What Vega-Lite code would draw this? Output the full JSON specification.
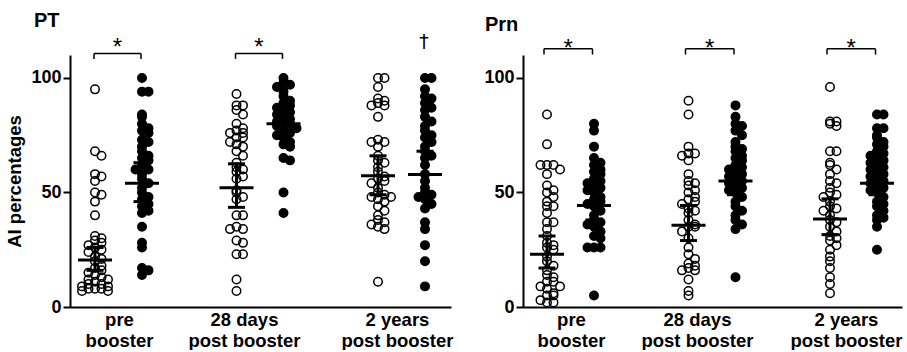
{
"$schema": "https://vega.github.io/schema/vega-lite/v6.json",
"padding": {"left": 5, "top": 10, "right": 0, "bottom": 0},
"bounds": "flush",
"spacing": 72,
"config": {"view": {"stroke": null}, "font": "Liberation Sans"},
"datasets": {
"pts": [
{"p":"PT","t":"pre","g":"open","v":95},{"p":"PT","t":"pre","g":"open","v":68},{"p":"PT","t":"pre","g":"open","v":66},{"p":"PT","t":"pre","g":"open","v":58},{"p":"PT","t":"pre","g":"open","v":57},{"p":"PT","t":"pre","g":"open","v":55},{"p":"PT","t":"pre","g":"open","v":50},{"p":"PT","t":"pre","g":"open","v":49},{"p":"PT","t":"pre","g":"open","v":46},{"p":"PT","t":"pre","g":"open","v":40},{"p":"PT","t":"pre","g":"open","v":31},{"p":"PT","t":"pre","g":"open","v":30},{"p":"PT","t":"pre","g":"open","v":29},{"p":"PT","t":"pre","g":"open","v":28},{"p":"PT","t":"pre","g":"open","v":27},{"p":"PT","t":"pre","g":"open","v":26},{"p":"PT","t":"pre","g":"open","v":25},{"p":"PT","t":"pre","g":"open","v":24},{"p":"PT","t":"pre","g":"open","v":22},{"p":"PT","t":"pre","g":"open","v":21},{"p":"PT","t":"pre","g":"open","v":20},{"p":"PT","t":"pre","g":"open","v":18},{"p":"PT","t":"pre","g":"open","v":17},{"p":"PT","t":"pre","g":"open","v":16},{"p":"PT","t":"pre","g":"open","v":15},{"p":"PT","t":"pre","g":"open","v":14},{"p":"PT","t":"pre","g":"open","v":13},{"p":"PT","t":"pre","g":"open","v":12},{"p":"PT","t":"pre","g":"open","v":12},{"p":"PT","t":"pre","g":"open","v":11},{"p":"PT","t":"pre","g":"open","v":10},{"p":"PT","t":"pre","g":"open","v":10},{"p":"PT","t":"pre","g":"open","v":9},{"p":"PT","t":"pre","g":"open","v":9},{"p":"PT","t":"pre","g":"open","v":8},{"p":"PT","t":"pre","g":"open","v":8},{"p":"PT","t":"pre","g":"open","v":8},{"p":"PT","t":"pre","g":"open","v":7},{"p":"PT","t":"pre","g":"open","v":7},
{"p":"PT","t":"pre","g":"filled","v":100},{"p":"PT","t":"pre","g":"filled","v":94},{"p":"PT","t":"pre","g":"filled","v":94},{"p":"PT","t":"pre","g":"filled","v":84},{"p":"PT","t":"pre","g":"filled","v":83},{"p":"PT","t":"pre","g":"filled","v":80},{"p":"PT","t":"pre","g":"filled","v":78},{"p":"PT","t":"pre","g":"filled","v":77},{"p":"PT","t":"pre","g":"filled","v":76},{"p":"PT","t":"pre","g":"filled","v":73},{"p":"PT","t":"pre","g":"filled","v":72},{"p":"PT","t":"pre","g":"filled","v":70},{"p":"PT","t":"pre","g":"filled","v":68},{"p":"PT","t":"pre","g":"filled","v":66},{"p":"PT","t":"pre","g":"filled","v":65},{"p":"PT","t":"pre","g":"filled","v":64},{"p":"PT","t":"pre","g":"filled","v":62},{"p":"PT","t":"pre","g":"filled","v":60},{"p":"PT","t":"pre","g":"filled","v":60},{"p":"PT","t":"pre","g":"filled","v":58},{"p":"PT","t":"pre","g":"filled","v":56},{"p":"PT","t":"pre","g":"filled","v":54},{"p":"PT","t":"pre","g":"filled","v":52},{"p":"PT","t":"pre","g":"filled","v":50},{"p":"PT","t":"pre","g":"filled","v":48},{"p":"PT","t":"pre","g":"filled","v":47},{"p":"PT","t":"pre","g":"filled","v":45},{"p":"PT","t":"pre","g":"filled","v":44},{"p":"PT","t":"pre","g":"filled","v":42},{"p":"PT","t":"pre","g":"filled","v":41},{"p":"PT","t":"pre","g":"filled","v":35},{"p":"PT","t":"pre","g":"filled","v":28},{"p":"PT","t":"pre","g":"filled","v":26},{"p":"PT","t":"pre","g":"filled","v":17},{"p":"PT","t":"pre","g":"filled","v":16},{"p":"PT","t":"pre","g":"filled","v":14},
{"p":"PT","t":"d28","g":"open","v":93},{"p":"PT","t":"d28","g":"open","v":88},{"p":"PT","t":"d28","g":"open","v":88},{"p":"PT","t":"d28","g":"open","v":86},{"p":"PT","t":"d28","g":"open","v":84},{"p":"PT","t":"d28","g":"open","v":80},{"p":"PT","t":"d28","g":"open","v":78},{"p":"PT","t":"d28","g":"open","v":77},{"p":"PT","t":"d28","g":"open","v":76},{"p":"PT","t":"d28","g":"open","v":76},{"p":"PT","t":"d28","g":"open","v":74},{"p":"PT","t":"d28","g":"open","v":74},{"p":"PT","t":"d28","g":"open","v":72},{"p":"PT","t":"d28","g":"open","v":71},{"p":"PT","t":"d28","g":"open","v":70},{"p":"PT","t":"d28","g":"open","v":68},{"p":"PT","t":"d28","g":"open","v":66},{"p":"PT","t":"d28","g":"open","v":63},{"p":"PT","t":"d28","g":"open","v":61},{"p":"PT","t":"d28","g":"open","v":60},{"p":"PT","t":"d28","g":"open","v":59},{"p":"PT","t":"d28","g":"open","v":57},{"p":"PT","t":"d28","g":"open","v":56},{"p":"PT","t":"d28","g":"open","v":51},{"p":"PT","t":"d28","g":"open","v":50},{"p":"PT","t":"d28","g":"open","v":48},{"p":"PT","t":"d28","g":"open","v":47},{"p":"PT","t":"d28","g":"open","v":40},{"p":"PT","t":"d28","g":"open","v":40},{"p":"PT","t":"d28","g":"open","v":35},{"p":"PT","t":"d28","g":"open","v":34},{"p":"PT","t":"d28","g":"open","v":34},{"p":"PT","t":"d28","g":"open","v":29},{"p":"PT","t":"d28","g":"open","v":28},{"p":"PT","t":"d28","g":"open","v":23},{"p":"PT","t":"d28","g":"open","v":23},{"p":"PT","t":"d28","g":"open","v":12},{"p":"PT","t":"d28","g":"open","v":7},
{"p":"PT","t":"d28","g":"filled","v":100},{"p":"PT","t":"d28","g":"filled","v":98},{"p":"PT","t":"d28","g":"filled","v":97},{"p":"PT","t":"d28","g":"filled","v":96},{"p":"PT","t":"d28","g":"filled","v":94},{"p":"PT","t":"d28","g":"filled","v":92},{"p":"PT","t":"d28","g":"filled","v":90},{"p":"PT","t":"d28","g":"filled","v":89},{"p":"PT","t":"d28","g":"filled","v":88},{"p":"PT","t":"d28","g":"filled","v":87},{"p":"PT","t":"d28","g":"filled","v":86},{"p":"PT","t":"d28","g":"filled","v":85},{"p":"PT","t":"d28","g":"filled","v":84},{"p":"PT","t":"d28","g":"filled","v":83},{"p":"PT","t":"d28","g":"filled","v":82},{"p":"PT","t":"d28","g":"filled","v":81},{"p":"PT","t":"d28","g":"filled","v":80},{"p":"PT","t":"d28","g":"filled","v":80},{"p":"PT","t":"d28","g":"filled","v":79},{"p":"PT","t":"d28","g":"filled","v":78},{"p":"PT","t":"d28","g":"filled","v":77},{"p":"PT","t":"d28","g":"filled","v":76},{"p":"PT","t":"d28","g":"filled","v":75},{"p":"PT","t":"d28","g":"filled","v":74},{"p":"PT","t":"d28","g":"filled","v":72},{"p":"PT","t":"d28","g":"filled","v":71},{"p":"PT","t":"d28","g":"filled","v":70},{"p":"PT","t":"d28","g":"filled","v":65},{"p":"PT","t":"d28","g":"filled","v":64},{"p":"PT","t":"d28","g":"filled","v":50},{"p":"PT","t":"d28","g":"filled","v":41},
{"p":"PT","t":"y2","g":"open","v":100},{"p":"PT","t":"y2","g":"open","v":100},{"p":"PT","t":"y2","g":"open","v":96},{"p":"PT","t":"y2","g":"open","v":91},{"p":"PT","t":"y2","g":"open","v":90},{"p":"PT","t":"y2","g":"open","v":89},{"p":"PT","t":"y2","g":"open","v":88},{"p":"PT","t":"y2","g":"open","v":88},{"p":"PT","t":"y2","g":"open","v":83},{"p":"PT","t":"y2","g":"open","v":73},{"p":"PT","t":"y2","g":"open","v":72},{"p":"PT","t":"y2","g":"open","v":72},{"p":"PT","t":"y2","g":"open","v":70},{"p":"PT","t":"y2","g":"open","v":66},{"p":"PT","t":"y2","g":"open","v":64},{"p":"PT","t":"y2","g":"open","v":63},{"p":"PT","t":"y2","g":"open","v":61},{"p":"PT","t":"y2","g":"open","v":59},{"p":"PT","t":"y2","g":"open","v":57},{"p":"PT","t":"y2","g":"open","v":56},{"p":"PT","t":"y2","g":"open","v":55},{"p":"PT","t":"y2","g":"open","v":54},{"p":"PT","t":"y2","g":"open","v":52},{"p":"PT","t":"y2","g":"open","v":50},{"p":"PT","t":"y2","g":"open","v":49},{"p":"PT","t":"y2","g":"open","v":48},{"p":"PT","t":"y2","g":"open","v":48},{"p":"PT","t":"y2","g":"open","v":47},{"p":"PT","t":"y2","g":"open","v":46},{"p":"PT","t":"y2","g":"open","v":44},{"p":"PT","t":"y2","g":"open","v":42},{"p":"PT","t":"y2","g":"open","v":40},{"p":"PT","t":"y2","g":"open","v":38},{"p":"PT","t":"y2","g":"open","v":37},{"p":"PT","t":"y2","g":"open","v":36},{"p":"PT","t":"y2","g":"open","v":35},{"p":"PT","t":"y2","g":"open","v":34},{"p":"PT","t":"y2","g":"open","v":11},
{"p":"PT","t":"y2","g":"filled","v":100},{"p":"PT","t":"y2","g":"filled","v":100},{"p":"PT","t":"y2","g":"filled","v":95},{"p":"PT","t":"y2","g":"filled","v":92},{"p":"PT","t":"y2","g":"filled","v":91},{"p":"PT","t":"y2","g":"filled","v":89},{"p":"PT","t":"y2","g":"filled","v":87},{"p":"PT","t":"y2","g":"filled","v":86},{"p":"PT","t":"y2","g":"filled","v":83},{"p":"PT","t":"y2","g":"filled","v":81},{"p":"PT","t":"y2","g":"filled","v":79},{"p":"PT","t":"y2","g":"filled","v":77},{"p":"PT","t":"y2","g":"filled","v":75},{"p":"PT","t":"y2","g":"filled","v":74},{"p":"PT","t":"y2","g":"filled","v":72},{"p":"PT","t":"y2","g":"filled","v":70},{"p":"PT","t":"y2","g":"filled","v":68},{"p":"PT","t":"y2","g":"filled","v":66},{"p":"PT","t":"y2","g":"filled","v":65},{"p":"PT","t":"y2","g":"filled","v":62},{"p":"PT","t":"y2","g":"filled","v":58},{"p":"PT","t":"y2","g":"filled","v":55},{"p":"PT","t":"y2","g":"filled","v":52},{"p":"PT","t":"y2","g":"filled","v":50},{"p":"PT","t":"y2","g":"filled","v":49},{"p":"PT","t":"y2","g":"filled","v":48},{"p":"PT","t":"y2","g":"filled","v":47},{"p":"PT","t":"y2","g":"filled","v":45},{"p":"PT","t":"y2","g":"filled","v":43},{"p":"PT","t":"y2","g":"filled","v":37},{"p":"PT","t":"y2","g":"filled","v":34},{"p":"PT","t":"y2","g":"filled","v":27},{"p":"PT","t":"y2","g":"filled","v":20},{"p":"PT","t":"y2","g":"filled","v":9},
{"p":"Prn","t":"pre","g":"open","v":84},{"p":"Prn","t":"pre","g":"open","v":71},{"p":"Prn","t":"pre","g":"open","v":62},{"p":"Prn","t":"pre","g":"open","v":62},{"p":"Prn","t":"pre","g":"open","v":62},{"p":"Prn","t":"pre","g":"open","v":60},{"p":"Prn","t":"pre","g":"open","v":58},{"p":"Prn","t":"pre","g":"open","v":53},{"p":"Prn","t":"pre","g":"open","v":51},{"p":"Prn","t":"pre","g":"open","v":50},{"p":"Prn","t":"pre","g":"open","v":48},{"p":"Prn","t":"pre","g":"open","v":46},{"p":"Prn","t":"pre","g":"open","v":44},{"p":"Prn","t":"pre","g":"open","v":44},{"p":"Prn","t":"pre","g":"open","v":41},{"p":"Prn","t":"pre","g":"open","v":37},{"p":"Prn","t":"pre","g":"open","v":37},{"p":"Prn","t":"pre","g":"open","v":34},{"p":"Prn","t":"pre","g":"open","v":31},{"p":"Prn","t":"pre","g":"open","v":28},{"p":"Prn","t":"pre","g":"open","v":27},{"p":"Prn","t":"pre","g":"open","v":26},{"p":"Prn","t":"pre","g":"open","v":25},{"p":"Prn","t":"pre","g":"open","v":22},{"p":"Prn","t":"pre","g":"open","v":20},{"p":"Prn","t":"pre","g":"open","v":18},{"p":"Prn","t":"pre","g":"open","v":16},{"p":"Prn","t":"pre","g":"open","v":14},{"p":"Prn","t":"pre","g":"open","v":13},{"p":"Prn","t":"pre","g":"open","v":11},{"p":"Prn","t":"pre","g":"open","v":11},{"p":"Prn","t":"pre","g":"open","v":9},{"p":"Prn","t":"pre","g":"open","v":9},{"p":"Prn","t":"pre","g":"open","v":8},{"p":"Prn","t":"pre","g":"open","v":6},{"p":"Prn","t":"pre","g":"open","v":5},{"p":"Prn","t":"pre","g":"open","v":5},{"p":"Prn","t":"pre","g":"open","v":3},{"p":"Prn","t":"pre","g":"open","v":2},{"p":"Prn","t":"pre","g":"open","v":2},
{"p":"Prn","t":"pre","g":"filled","v":80},{"p":"Prn","t":"pre","g":"filled","v":77},{"p":"Prn","t":"pre","g":"filled","v":70},{"p":"Prn","t":"pre","g":"filled","v":65},{"p":"Prn","t":"pre","g":"filled","v":63},{"p":"Prn","t":"pre","g":"filled","v":62},{"p":"Prn","t":"pre","g":"filled","v":60},{"p":"Prn","t":"pre","g":"filled","v":59},{"p":"Prn","t":"pre","g":"filled","v":58},{"p":"Prn","t":"pre","g":"filled","v":56},{"p":"Prn","t":"pre","g":"filled","v":55},{"p":"Prn","t":"pre","g":"filled","v":54},{"p":"Prn","t":"pre","g":"filled","v":53},{"p":"Prn","t":"pre","g":"filled","v":52},{"p":"Prn","t":"pre","g":"filled","v":51},{"p":"Prn","t":"pre","g":"filled","v":50},{"p":"Prn","t":"pre","g":"filled","v":48},{"p":"Prn","t":"pre","g":"filled","v":47},{"p":"Prn","t":"pre","g":"filled","v":46},{"p":"Prn","t":"pre","g":"filled","v":45},{"p":"Prn","t":"pre","g":"filled","v":44},{"p":"Prn","t":"pre","g":"filled","v":42},{"p":"Prn","t":"pre","g":"filled","v":40},{"p":"Prn","t":"pre","g":"filled","v":38},{"p":"Prn","t":"pre","g":"filled","v":37},{"p":"Prn","t":"pre","g":"filled","v":36},{"p":"Prn","t":"pre","g":"filled","v":35},{"p":"Prn","t":"pre","g":"filled","v":33},{"p":"Prn","t":"pre","g":"filled","v":31},{"p":"Prn","t":"pre","g":"filled","v":30},{"p":"Prn","t":"pre","g":"filled","v":26},{"p":"Prn","t":"pre","g":"filled","v":26},{"p":"Prn","t":"pre","g":"filled","v":26},{"p":"Prn","t":"pre","g":"filled","v":5},
{"p":"Prn","t":"d28","g":"open","v":90},{"p":"Prn","t":"d28","g":"open","v":84},{"p":"Prn","t":"d28","g":"open","v":70},{"p":"Prn","t":"d28","g":"open","v":67},{"p":"Prn","t":"d28","g":"open","v":67},{"p":"Prn","t":"d28","g":"open","v":66},{"p":"Prn","t":"d28","g":"open","v":64},{"p":"Prn","t":"d28","g":"open","v":58},{"p":"Prn","t":"d28","g":"open","v":55},{"p":"Prn","t":"d28","g":"open","v":54},{"p":"Prn","t":"d28","g":"open","v":53},{"p":"Prn","t":"d28","g":"open","v":51},{"p":"Prn","t":"d28","g":"open","v":50},{"p":"Prn","t":"d28","g":"open","v":48},{"p":"Prn","t":"d28","g":"open","v":47},{"p":"Prn","t":"d28","g":"open","v":46},{"p":"Prn","t":"d28","g":"open","v":45},{"p":"Prn","t":"d28","g":"open","v":43},{"p":"Prn","t":"d28","g":"open","v":42},{"p":"Prn","t":"d28","g":"open","v":41},{"p":"Prn","t":"d28","g":"open","v":38},{"p":"Prn","t":"d28","g":"open","v":36},{"p":"Prn","t":"d28","g":"open","v":35},{"p":"Prn","t":"d28","g":"open","v":35},{"p":"Prn","t":"d28","g":"open","v":33},{"p":"Prn","t":"d28","g":"open","v":30},{"p":"Prn","t":"d28","g":"open","v":26},{"p":"Prn","t":"d28","g":"open","v":23},{"p":"Prn","t":"d28","g":"open","v":21},{"p":"Prn","t":"d28","g":"open","v":19},{"p":"Prn","t":"d28","g":"open","v":18},{"p":"Prn","t":"d28","g":"open","v":17},{"p":"Prn","t":"d28","g":"open","v":16},{"p":"Prn","t":"d28","g":"open","v":16},{"p":"Prn","t":"d28","g":"open","v":12},{"p":"Prn","t":"d28","g":"open","v":7},{"p":"Prn","t":"d28","g":"open","v":5},
{"p":"Prn","t":"d28","g":"filled","v":88},{"p":"Prn","t":"d28","g":"filled","v":83},{"p":"Prn","t":"d28","g":"filled","v":80},{"p":"Prn","t":"d28","g":"filled","v":79},{"p":"Prn","t":"d28","g":"filled","v":77},{"p":"Prn","t":"d28","g":"filled","v":75},{"p":"Prn","t":"d28","g":"filled","v":72},{"p":"Prn","t":"d28","g":"filled","v":70},{"p":"Prn","t":"d28","g":"filled","v":69},{"p":"Prn","t":"d28","g":"filled","v":68},{"p":"Prn","t":"d28","g":"filled","v":66},{"p":"Prn","t":"d28","g":"filled","v":65},{"p":"Prn","t":"d28","g":"filled","v":64},{"p":"Prn","t":"d28","g":"filled","v":62},{"p":"Prn","t":"d28","g":"filled","v":61},{"p":"Prn","t":"d28","g":"filled","v":60},{"p":"Prn","t":"d28","g":"filled","v":59},{"p":"Prn","t":"d28","g":"filled","v":58},{"p":"Prn","t":"d28","g":"filled","v":57},{"p":"Prn","t":"d28","g":"filled","v":56},{"p":"Prn","t":"d28","g":"filled","v":55},{"p":"Prn","t":"d28","g":"filled","v":54},{"p":"Prn","t":"d28","g":"filled","v":53},{"p":"Prn","t":"d28","g":"filled","v":52},{"p":"Prn","t":"d28","g":"filled","v":51},{"p":"Prn","t":"d28","g":"filled","v":50},{"p":"Prn","t":"d28","g":"filled","v":48},{"p":"Prn","t":"d28","g":"filled","v":46},{"p":"Prn","t":"d28","g":"filled","v":44},{"p":"Prn","t":"d28","g":"filled","v":42},{"p":"Prn","t":"d28","g":"filled","v":40},{"p":"Prn","t":"d28","g":"filled","v":38},{"p":"Prn","t":"d28","g":"filled","v":36},{"p":"Prn","t":"d28","g":"filled","v":34},{"p":"Prn","t":"d28","g":"filled","v":13},
{"p":"Prn","t":"y2","g":"open","v":96},{"p":"Prn","t":"y2","g":"open","v":81},{"p":"Prn","t":"y2","g":"open","v":81},{"p":"Prn","t":"y2","g":"open","v":80},{"p":"Prn","t":"y2","g":"open","v":79},{"p":"Prn","t":"y2","g":"open","v":68},{"p":"Prn","t":"y2","g":"open","v":68},{"p":"Prn","t":"y2","g":"open","v":63},{"p":"Prn","t":"y2","g":"open","v":62},{"p":"Prn","t":"y2","g":"open","v":60},{"p":"Prn","t":"y2","g":"open","v":58},{"p":"Prn","t":"y2","g":"open","v":55},{"p":"Prn","t":"y2","g":"open","v":54},{"p":"Prn","t":"y2","g":"open","v":52},{"p":"Prn","t":"y2","g":"open","v":50},{"p":"Prn","t":"y2","g":"open","v":49},{"p":"Prn","t":"y2","g":"open","v":48},{"p":"Prn","t":"y2","g":"open","v":46},{"p":"Prn","t":"y2","g":"open","v":44},{"p":"Prn","t":"y2","g":"open","v":43},{"p":"Prn","t":"y2","g":"open","v":42},{"p":"Prn","t":"y2","g":"open","v":40},{"p":"Prn","t":"y2","g":"open","v":38},{"p":"Prn","t":"y2","g":"open","v":37},{"p":"Prn","t":"y2","g":"open","v":35},{"p":"Prn","t":"y2","g":"open","v":33},{"p":"Prn","t":"y2","g":"open","v":31},{"p":"Prn","t":"y2","g":"open","v":30},{"p":"Prn","t":"y2","g":"open","v":29},{"p":"Prn","t":"y2","g":"open","v":27},{"p":"Prn","t":"y2","g":"open","v":25},{"p":"Prn","t":"y2","g":"open","v":22},{"p":"Prn","t":"y2","g":"open","v":20},{"p":"Prn","t":"y2","g":"open","v":17},{"p":"Prn","t":"y2","g":"open","v":13},{"p":"Prn","t":"y2","g":"open","v":10},{"p":"Prn","t":"y2","g":"open","v":6},
{"p":"Prn","t":"y2","g":"filled","v":84},{"p":"Prn","t":"y2","g":"filled","v":84},{"p":"Prn","t":"y2","g":"filled","v":78},{"p":"Prn","t":"y2","g":"filled","v":78},{"p":"Prn","t":"y2","g":"filled","v":75},{"p":"Prn","t":"y2","g":"filled","v":74},{"p":"Prn","t":"y2","g":"filled","v":72},{"p":"Prn","t":"y2","g":"filled","v":71},{"p":"Prn","t":"y2","g":"filled","v":70},{"p":"Prn","t":"y2","g":"filled","v":68},{"p":"Prn","t":"y2","g":"filled","v":67},{"p":"Prn","t":"y2","g":"filled","v":66},{"p":"Prn","t":"y2","g":"filled","v":65},{"p":"Prn","t":"y2","g":"filled","v":64},{"p":"Prn","t":"y2","g":"filled","v":63},{"p":"Prn","t":"y2","g":"filled","v":62},{"p":"Prn","t":"y2","g":"filled","v":61},{"p":"Prn","t":"y2","g":"filled","v":60},{"p":"Prn","t":"y2","g":"filled","v":59},{"p":"Prn","t":"y2","g":"filled","v":58},{"p":"Prn","t":"y2","g":"filled","v":57},{"p":"Prn","t":"y2","g":"filled","v":56},{"p":"Prn","t":"y2","g":"filled","v":55},{"p":"Prn","t":"y2","g":"filled","v":54},{"p":"Prn","t":"y2","g":"filled","v":53},{"p":"Prn","t":"y2","g":"filled","v":52},{"p":"Prn","t":"y2","g":"filled","v":51},{"p":"Prn","t":"y2","g":"filled","v":50},{"p":"Prn","t":"y2","g":"filled","v":48},{"p":"Prn","t":"y2","g":"filled","v":46},{"p":"Prn","t":"y2","g":"filled","v":45},{"p":"Prn","t":"y2","g":"filled","v":44},{"p":"Prn","t":"y2","g":"filled","v":42},{"p":"Prn","t":"y2","g":"filled","v":40},{"p":"Prn","t":"y2","g":"filled","v":39},{"p":"Prn","t":"y2","g":"filled","v":38},{"p":"Prn","t":"y2","g":"filled","v":35},{"p":"Prn","t":"y2","g":"filled","v":25}
],
"st": [
{"p":"PT","t":"pre","g":"open","mid":20.5,"lo":16,"hi":26},
{"p":"PT","t":"pre","g":"filled","mid":54,"lo":46,"hi":63},
{"p":"PT","t":"d28","g":"open","mid":52,"lo":43.5,"hi":62.5},
{"p":"PT","t":"d28","g":"filled","mid":80,"lo":76,"hi":85},
{"p":"PT","t":"y2","g":"open","mid":57.3,"lo":49,"hi":66},
{"p":"PT","t":"y2","g":"filled","mid":57.8,"lo":48,"hi":68},
{"p":"Prn","t":"pre","g":"open","mid":23,"lo":17,"hi":31},
{"p":"Prn","t":"pre","g":"filled","mid":44.3,"lo":38,"hi":51},
{"p":"Prn","t":"d28","g":"open","mid":35.7,"lo":29,"hi":44.3},
{"p":"Prn","t":"d28","g":"filled","mid":55,"lo":49,"hi":61},
{"p":"Prn","t":"y2","g":"open","mid":38.4,"lo":31.6,"hi":47.2},
{"p":"Prn","t":"y2","g":"filled","mid":54,"lo":49,"hi":59}
],
"sg": [
{"p":"PT","t":"pre","lab":"*","br":1},
{"p":"PT","t":"d28","lab":"*","br":1},
{"p":"PT","t":"y2","lab":"†","br":0},
{"p":"Prn","t":"pre","lab":"*","br":1},
{"p":"Prn","t":"d28","lab":"*","br":1},
{"p":"Prn","t":"y2","lab":"*","br":1}
]
},
"hconcat": [
{
"width": 381, "height": 252,
"title": {"text": "PT", "anchor": "start", "frame": "group", "dx": -36, "fontSize": 20, "font": "Liberation Sans", "fontWeight": "bold", "color": "black", "offset": 2},
"layer": [
{
"data": {"name": "pts"},
"transform": [
{"filter": "datum.p == 'PT'"},
{"bin": {"step": 3}, "field": "v", "as": "vb"},
{"window": [{"op": "row_number", "as": "r"}], "groupby": ["t", "g", "vb"], "sort": [{"field": "v", "order": "descending"}]},
{"calculate": "datum.r == 1 ? 0 : (datum.r % 2 == 0 ? 1 : -1) * floor(datum.r / 2)", "as": "off"},
{"calculate": "indexof(['pre','d28','y2'], datum.t) * 141.5 + (datum.g == 'open' ? 25 : 72) + datum.off * 6.5", "as": "xp"}
],
"mark": {"type": "point", "shape": "circle", "size": 72, "stroke": "black", "strokeWidth": 1.5, "opacity": 1, "clip": false},
"encoding": {
"x": {"field": "xp", "type": "quantitative", "scale": {"domain": [0, 381], "nice": false, "zero": false},
"axis": {"values": [49, 174, 327], "labelExpr": "datum.value < 100 ? ['pre', 'booster'] : datum.value < 250 ? ['28 days', 'post booster'] : ['2 years', 'post booster']", "ticks": false, "domainWidth": 2, "domainColor": "black", "labelFont": "Liberation Sans", "labelFontSize": 18.5, "labelFontWeight": "bold", "labelColor": "black", "labelPadding": 3, "labelLineHeight": 21, "labelAngle": 0, "title": null, "grid": false, "labelOverlap": false, "labelBound": false}},
"y": {"field": "v", "type": "quantitative", "scale": {"domain": [0, 110], "nice": false},
"axis": {"values": [0, 50, 100], "title": "AI percentages", "tickSize": 7, "tickWidth": 2, "tickColor": "black", "domainColor": "black", "domainWidth": 2, "labelFont": "Liberation Sans", "labelFontSize": 18, "labelFontWeight": "bold", "labelColor": "black", "labelPadding": 2, "titleFont": "Liberation Sans", "titleFontSize": 18.5, "titleFontWeight": "bold", "titleColor": "black", "titlePadding": 6, "grid": false}},
"fill": {"field": "g", "type": "nominal", "scale": {"domain": ["open", "filled"], "range": ["transparent", "black"]}, "legend": null}
}
},
{
"data": {"name": "st"},
"transform": [
{"filter": "datum.p == 'PT'"},
{"calculate": "indexof(['pre','d28','y2'], datum.t) * 141.5 + (datum.g == 'open' ? 25 : 72)", "as": "b"},
{"calculate": "datum.b - 8.5", "as": "c1"},
{"calculate": "datum.b + 8.5", "as": "c2"},
{"calculate": "datum.b - 17", "as": "m1"},
{"calculate": "datum.b + 17", "as": "m2"}
],
"layer": [
{"mark": {"type": "rule", "strokeWidth": 3, "color": "black"}, "encoding": {"x": {"field": "b", "type": "quantitative", "scale": {"domain": [0, 381], "nice": false, "zero": false}}, "y": {"field": "lo", "type": "quantitative", "scale": {"domain": [0, 110], "nice": false}}, "y2": {"field": "hi"}}},
{"mark": {"type": "rule", "strokeWidth": 3, "color": "black"}, "encoding": {"x": {"field": "c1", "type": "quantitative", "scale": {"domain": [0, 381], "nice": false, "zero": false}}, "x2": {"field": "c2"}, "y": {"field": "hi", "type": "quantitative", "scale": {"domain": [0, 110], "nice": false}}}},
{"mark": {"type": "rule", "strokeWidth": 3, "color": "black"}, "encoding": {"x": {"field": "c1", "type": "quantitative", "scale": {"domain": [0, 381], "nice": false, "zero": false}}, "x2": {"field": "c2"}, "y": {"field": "lo", "type": "quantitative", "scale": {"domain": [0, 110], "nice": false}}}},
{"mark": {"type": "rule", "strokeWidth": 3, "color": "black"}, "encoding": {"x": {"field": "m1", "type": "quantitative", "scale": {"domain": [0, 381], "nice": false, "zero": false}}, "x2": {"field": "m2"}, "y": {"field": "mid", "type": "quantitative", "scale": {"domain": [0, 110], "nice": false}}}}
]
},
{
"data": {"name": "sg"},
"transform": [
{"filter": "datum.p == 'PT'"},
{"calculate": "indexof(['pre','d28','y2'], datum.t) * 141.5 + 24", "as": "xo"},
{"calculate": "indexof(['pre','d28','y2'], datum.t) * 141.5 + 71", "as": "xf"},
{"calculate": "datum.br == 1 ? (datum.xo + datum.xf) / 2 : datum.xf", "as": "xt"}
],
"layer": [
{"transform": [{"filter": "datum.br == 1"}], "mark": {"type": "rule", "strokeWidth": 1.5, "color": "black", "clip": false}, "encoding": {"x": {"field": "xo", "type": "quantitative", "scale": {"domain": [0, 381], "nice": false, "zero": false}}, "x2": {"field": "xf"}, "y": {"datum": 110.7, "type": "quantitative", "scale": {"domain": [0, 110], "nice": false}}}},
{"transform": [{"filter": "datum.br == 1"}], "mark": {"type": "rule", "strokeWidth": 1.5, "color": "black", "clip": false}, "encoding": {"x": {"field": "xo", "type": "quantitative", "scale": {"domain": [0, 381], "nice": false, "zero": false}}, "y": {"datum": 108.3, "type": "quantitative", "scale": {"domain": [0, 110], "nice": false}}, "y2": {"datum": 110.7}}},
{"transform": [{"filter": "datum.br == 1"}], "mark": {"type": "rule", "strokeWidth": 1.5, "color": "black", "clip": false}, "encoding": {"x": {"field": "xf", "type": "quantitative", "scale": {"domain": [0, 381], "nice": false, "zero": false}}, "y": {"datum": 108.3, "type": "quantitative", "scale": {"domain": [0, 110], "nice": false}}, "y2": {"datum": 110.7}}},
{"transform": [{"filter": "datum.br == 1"}], "mark": {"type": "text", "fontSize": 24, "font": "Liberation Sans", "fill": "black", "baseline": "alphabetic", "clip": false}, "encoding": {"x": {"field": "xt", "type": "quantitative", "scale": {"domain": [0, 381], "nice": false, "zero": false}}, "y": {"datum": 110.2, "type": "quantitative", "scale": {"domain": [0, 110], "nice": false}}, "text": {"field": "lab"}}},
{"transform": [{"filter": "datum.br == 0"}], "mark": {"type": "text", "fontSize": 19, "font": "DejaVu Sans", "fill": "#000000", "baseline": "alphabetic", "clip": false}, "encoding": {"x": {"field": "xt", "type": "quantitative", "scale": {"domain": [0, 381], "nice": false, "zero": false}}, "y": {"datum": 113.2, "type": "quantitative", "scale": {"domain": [0, 110], "nice": false}}, "text": {"field": "lab"}}}
]
}
]
},
{
"width": 379, "height": 252,
"title": {"text": "Prn", "anchor": "start", "frame": "group", "dx": -38, "fontSize": 20, "font": "Liberation Sans", "fontWeight": "bold", "color": "black", "offset": 2},
"layer": [
{
"data": {"name": "pts"},
"transform": [
{"filter": "datum.p == 'Prn'"},
{"bin": {"step": 3}, "field": "v", "as": "vb"},
{"window": [{"op": "row_number", "as": "r"}], "groupby": ["t", "g", "vb"], "sort": [{"field": "v", "order": "descending"}]},
{"calculate": "datum.r == 1 ? 0 : (datum.r % 2 == 0 ? 1 : -1) * floor(datum.r / 2)", "as": "off"},
{"calculate": "indexof(['pre','d28','y2'], datum.t) * 141.5 + (datum.g == 'open' ? 24 : 71) + datum.off * 6.5", "as": "xp"}
],
"mark": {"type": "point", "shape": "circle", "size": 72, "stroke": "black", "strokeWidth": 1.5, "opacity": 1, "clip": false},
"encoding": {
"x": {"field": "xp", "type": "quantitative", "scale": {"domain": [0, 379], "nice": false, "zero": false},
"axis": {"values": [48, 174, 323], "labelExpr": "datum.value < 100 ? ['pre', 'booster'] : datum.value < 250 ? ['28 days', 'post booster'] : ['2 years', 'post booster']", "ticks": false, "domainWidth": 2, "domainColor": "black", "labelFont": "Liberation Sans", "labelFontSize": 18.5, "labelFontWeight": "bold", "labelColor": "black", "labelPadding": 3, "labelLineHeight": 21, "labelAngle": 0, "title": null, "grid": false, "labelOverlap": false, "labelBound": false}},
"y": {"field": "v", "type": "quantitative", "scale": {"domain": [0, 110], "nice": false},
"axis": {"values": [0, 50, 100], "title": null, "tickSize": 7, "tickWidth": 2, "tickColor": "black", "domainColor": "black", "domainWidth": 2, "labelFont": "Liberation Sans", "labelFontSize": 18, "labelFontWeight": "bold", "labelColor": "black", "labelPadding": 2, "grid": false}},
"fill": {"field": "g", "type": "nominal", "scale": {"domain": ["open", "filled"], "range": ["transparent", "black"]}, "legend": null}
}
},
{
"data": {"name": "st"},
"transform": [
{"filter": "datum.p == 'Prn'"},
{"calculate": "indexof(['pre','d28','y2'], datum.t) * 141.5 + (datum.g == 'open' ? 24 : 71)", "as": "b"},
{"calculate": "datum.b - 8.5", "as": "c1"},
{"calculate": "datum.b + 8.5", "as": "c2"},
{"calculate": "datum.b - 17", "as": "m1"},
{"calculate": "datum.b + 17", "as": "m2"}
],
"layer": [
{"mark": {"type": "rule", "strokeWidth": 3, "color": "black"}, "encoding": {"x": {"field": "b", "type": "quantitative", "scale": {"domain": [0, 379], "nice": false, "zero": false}}, "y": {"field": "lo", "type": "quantitative", "scale": {"domain": [0, 110], "nice": false}}, "y2": {"field": "hi"}}},
{"mark": {"type": "rule", "strokeWidth": 3, "color": "black"}, "encoding": {"x": {"field": "c1", "type": "quantitative", "scale": {"domain": [0, 379], "nice": false, "zero": false}}, "x2": {"field": "c2"}, "y": {"field": "hi", "type": "quantitative", "scale": {"domain": [0, 110], "nice": false}}}},
{"mark": {"type": "rule", "strokeWidth": 3, "color": "black"}, "encoding": {"x": {"field": "c1", "type": "quantitative", "scale": {"domain": [0, 379], "nice": false, "zero": false}}, "x2": {"field": "c2"}, "y": {"field": "lo", "type": "quantitative", "scale": {"domain": [0, 110], "nice": false}}}},
{"mark": {"type": "rule", "strokeWidth": 3, "color": "black"}, "encoding": {"x": {"field": "m1", "type": "quantitative", "scale": {"domain": [0, 379], "nice": false, "zero": false}}, "x2": {"field": "m2"}, "y": {"field": "mid", "type": "quantitative", "scale": {"domain": [0, 110], "nice": false}}}}
]
},
{
"data": {"name": "sg"},
"transform": [
{"filter": "datum.p == 'Prn'"},
{"calculate": "indexof(['pre','d28','y2'], datum.t) * 141.5 + 21", "as": "xo"},
{"calculate": "indexof(['pre','d28','y2'], datum.t) * 141.5 + 69.5", "as": "xf"},
{"calculate": "(datum.xo + datum.xf) / 2", "as": "xt"}
],
"layer": [
{"mark": {"type": "rule", "strokeWidth": 1.5, "color": "black", "clip": false}, "encoding": {"x": {"field": "xo", "type": "quantitative", "scale": {"domain": [0, 379], "nice": false, "zero": false}}, "x2": {"field": "xf"}, "y": {"datum": 112.7, "type": "quantitative", "scale": {"domain": [0, 110], "nice": false}}}},
{"mark": {"type": "rule", "strokeWidth": 1.5, "color": "black", "clip": false}, "encoding": {"x": {"field": "xo", "type": "quantitative", "scale": {"domain": [0, 379], "nice": false, "zero": false}}, "y": {"datum": 110.2, "type": "quantitative", "scale": {"domain": [0, 110], "nice": false}}, "y2": {"datum": 112.7}}},
{"mark": {"type": "rule", "strokeWidth": 1.5, "color": "black", "clip": false}, "encoding": {"x": {"field": "xf", "type": "quantitative", "scale": {"domain": [0, 379], "nice": false, "zero": false}}, "y": {"datum": 110.2, "type": "quantitative", "scale": {"domain": [0, 110], "nice": false}}, "y2": {"datum": 112.7}}},
{"mark": {"type": "text", "fontSize": 24, "font": "Liberation Sans", "fill": "black", "baseline": "alphabetic", "clip": false}, "encoding": {"x": {"field": "xt", "type": "quantitative", "scale": {"domain": [0, 379], "nice": false, "zero": false}}, "y": {"datum": 109.4, "type": "quantitative", "scale": {"domain": [0, 110], "nice": false}}, "text": {"field": "lab"}}}
]
}
]
}
]
}
